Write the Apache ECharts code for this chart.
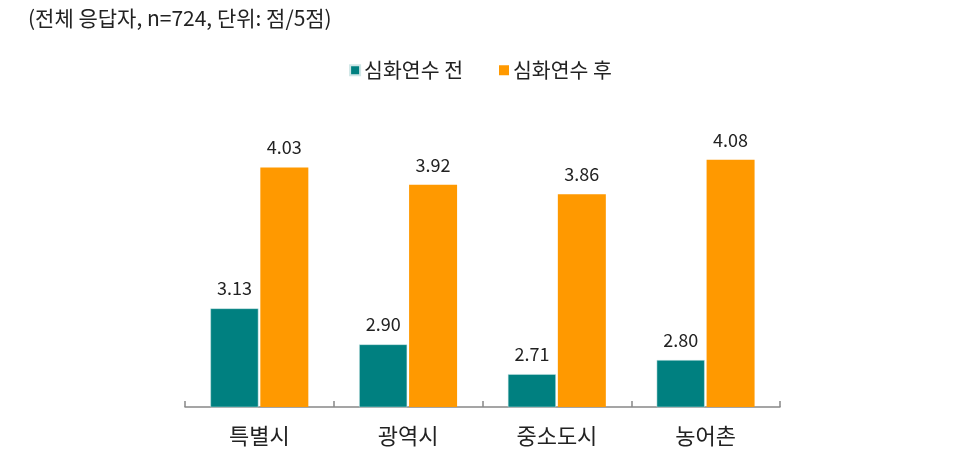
<!DOCTYPE html>
<html>
<head>
<meta charset="utf-8">
<script src="https://cdn.jsdelivr.net/npm/echarts@6/dist/echarts.min.js"></script>
<style>
html,body{margin:0;padding:0;background:#fff;}
#chart{width:961px;height:450px;}
</style>
</head>
<body>
<div id="chart"></div>
<script>
const titleText = '(전체 응답자, n=724, 단위: 점/5점)';
const categories = ['특별시', '광역시', '중소도시', '농어촌'];
const seriesNames = ['심화연수 전', '심화연수 후'];
const beforeValues = [3.13, 2.90, 2.71, 2.80];
const afterValues = [4.03, 3.92, 3.86, 4.08];

const FONT = '"Noto Sans CJK KR", "Noto Sans", sans-serif';
const chart = echarts.init(document.getElementById('chart'));
chart.setOption({
  animation: false,
  backgroundColor: '#ffffff',
  title: {
    text: titleText,
    left: 23, top: 3,
    textStyle: { fontFamily: FONT, fontSize: 21, fontWeight: 'normal', color: '#222' }
  },
  legend: {
    data: seriesNames,
    top: 55, left: 'center',
    itemWidth: 10, itemHeight: 10, itemGap: 36,
    icon: 'rect',
    textStyle: { fontFamily: FONT, fontSize: 20.5, color: '#222', padding: [0, 0, 0, -1] }
  },
  grid: { left: 185, right: 181, top: 94, bottom: 43, containLabel: false },
  xAxis: {
    type: 'category',
    data: categories,
    axisLine: { lineStyle: { color: '#888', width: 1.5 } },
    axisTick: { show: true, inside: true, length: 6, lineStyle: { color: '#888', width: 1.5 } },
    axisLabel: { fontFamily: FONT, fontSize: 22, color: '#222', margin: 18 }
  },
  yAxis: {
    type: 'value', min: 2.5, max: 4.5, interval: 0.5,
    show: false,
    splitLine: { show: false }
  },
  series: [
    {
      name: seriesNames[0], type: 'bar', data: beforeValues,
      barWidth: 48, barGap: '4%',
      itemStyle: { color: '#008080', borderColor: '#cfe6e6', borderWidth: 0.5 },
      label: { show: true, position: 'top', distance: 11, formatter: p => p.value.toFixed(2),
        fontFamily: FONT, fontSize: 18, color: '#222' }
    },
    {
      name: seriesNames[1], type: 'bar', data: afterValues,
      barWidth: 48,
      itemStyle: { color: '#FF9900' },
      label: { show: true, position: 'top', distance: 11, formatter: p => p.value.toFixed(2),
        fontFamily: FONT, fontSize: 18, color: '#222' }
    }
  ]
});
</script>
</body>
</html>
